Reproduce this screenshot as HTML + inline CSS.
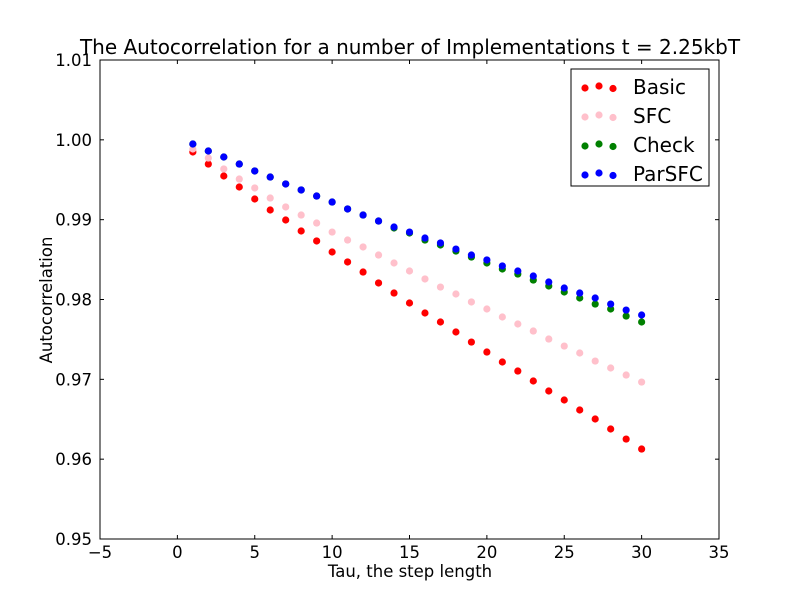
<!DOCTYPE html>
<html><head><meta charset="utf-8"><style>
body{margin:0;background:#fff;}
svg{display:block;font-family:"DejaVu Sans","Liberation Sans",sans-serif;}
</style></head><body>
<svg id="chart" width="800" height="600">
<rect x="0" y="0" width="800" height="600" fill="#fff"/>
<text x="410" y="54" font-size="20" text-anchor="middle">The Autocorrelation for a number of Implementations t = 2.25kbT</text>
<g id="ticks"></g>
<g id="marks"></g>
<rect x="100" y="60" width="619" height="479" fill="none" stroke="#000" stroke-width="1"/>
<text x="410" y="577" font-size="16.5" text-anchor="middle">Tau, the step length</text>
<text x="52" y="300" font-size="16.5" text-anchor="middle" transform="rotate(-90 52 300)">Autocorrelation</text>
<g id="legend">
<rect x="571" y="69" width="138" height="117" fill="#fff" stroke="#000" stroke-width="1"/>
</g>
</svg>
<script>
const taus = [1,2,3,4,5,6,7,8,9,10,11,12,13,14,15,16,17,18,19,20,21,22,23,24,25,26,27,28,29,30];
const basic = [0.99848,0.99697,0.99547,0.99409,0.99259,0.99121,0.98996,0.98858,0.98733,0.98595,0.9847,0.98344,0.98207,0.98081,0.97956,0.97831,0.97718,0.97593,0.97467,0.97342,0.97217,0.97104,0.96979,0.96854,0.96741,0.96616,0.96503,0.96378,0.96252,0.96127];
const sfc = [0.99885,0.99772,0.99635,0.99509,0.99397,0.99271,0.99159,0.99058,0.98958,0.98845,0.98745,0.98658,0.98557,0.98457,0.98357,0.98257,0.98156,0.98069,0.97969,0.97881,0.97781,0.97693,0.97605,0.97505,0.97417,0.9733,0.97229,0.97142,0.97054,0.96966];
const check = [0.99948,0.9986,0.99785,0.99697,0.9961,0.99534,0.99447,0.99372,0.99296,0.99221,0.99134,0.99058,0.98983,0.98896,0.98833,0.98745,0.98683,0.98607,0.98532,0.98457,0.98382,0.98319,0.98244,0.98169,0.98094,0.98019,0.97943,0.97881,0.97793,0.97718];
const parsfc = [0.99948,0.9986,0.99785,0.99697,0.9961,0.99534,0.99447,0.99372,0.99296,0.99221,0.99134,0.99058,0.98983,0.98908,0.98845,0.9877,0.98708,0.98632,0.98557,0.98495,0.9842,0.98357,0.98294,0.98219,0.98144,0.98081,0.98019,0.97943,0.97868,0.97806];
const xTicks = [-5,0,5,10,15,20,25,30,35];
const xTickLabels = ["\u22125","0","5","10","15","20","25","30","35"];
const yTicks = [0.95,0.96,0.97,0.98,0.99,1.00,1.01];
const yTickLabels = ["0.95","0.96","0.97","0.98","0.99","1.00","1.01"];
const seriesNames = ["Basic","SFC","Check","ParSFC"];
const seriesColors = ["#ff0000","#ffc0cb","#008000","#0000ff"];
const seriesData = [basic,sfc,check,parsfc];

const NS="http://www.w3.org/2000/svg";
const X0=100,X1=719,Y0=539,Y1=60;
function xs(v){return X0+(v-(-5))/(40)*(X1-X0);}
function ys(v){return Y0-(v-0.95)/(0.06)*(Y0-Y1);}
function mk(tag,attrs){const e=document.createElementNS(NS,tag);for(const k in attrs)e.setAttribute(k,attrs[k]);return e;}

const tg=document.getElementById('ticks');
xTicks.forEach((t,i)=>{
  const x=xs(t);
  const a=mk('line',{x1:x,x2:x,y1:Y0,y2:Y0-4,stroke:'#000'});
  
  
  tg.appendChild(a);
  const b=mk('line',{x1:x,x2:x,y1:Y1,y2:Y1+4,stroke:'#000'});
  
  
  tg.appendChild(b);
  const l=mk('text',{x:x,y:Y0+19,'font-size':16.5,'text-anchor':'middle'});
  l.textContent=xTickLabels[i];
  
  
  tg.appendChild(l);
});
yTicks.forEach((t,i)=>{
  const y=ys(t);
  const a=mk('line',{x1:X0,x2:X0+4,y1:y,y2:y,stroke:'#000'});
  
  
  tg.appendChild(a);
  const b=mk('line',{x1:X1,x2:X1-4,y1:y,y2:y,stroke:'#000'});
  
  
  tg.appendChild(b);
  const l=mk('text',{x:X0-8,y:y+6,'font-size':16.5,'text-anchor':'end'});
  l.textContent=yTickLabels[i];
  
  
  tg.appendChild(l);
});

const mg=document.getElementById('marks');
seriesData.forEach((arr,s)=>{
  arr.forEach((v,i)=>{
    const c=mk('circle',{cx:xs(taus[i]),cy:ys(v),r:3.6,fill:seriesColors[s]});
    
    
    mg.appendChild(c);
  });
});

const lg=document.getElementById('legend');
const offs=[1,-1,1.5];
seriesNames.forEach((n,s)=>{
  const y=87+s*29;
  [585,599,613].forEach((x,j)=>{
    const c=mk('circle',{cx:x,cy:y+offs[j],r:3.6,fill:seriesColors[s]});
    
    
    lg.appendChild(c);
  });
  const t=mk('text',{x:633,y:y+7,'font-size':20});
  t.textContent=n;
  
  
  lg.appendChild(t);
});
</script>
</body></html>
